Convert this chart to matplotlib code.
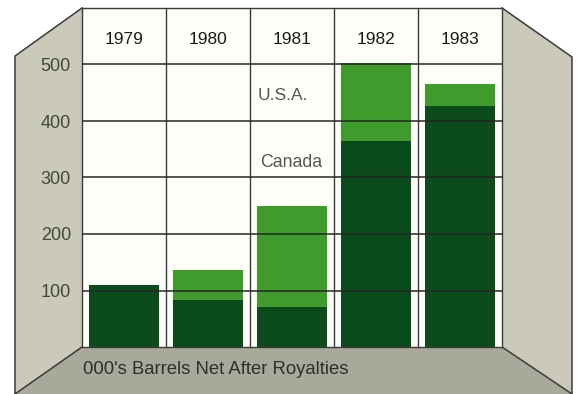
import numpy as np
import matplotlib.pyplot as plt
from matplotlib.patches import Polygon

years = ['1979', '1980', '1981', '1982', '1983']
canada = [110, 84, 70, 365, 427]
usa = [0, 53, 180, 138, 39]
y_ticks = [100, 200, 300, 400, 500]

plt.rcParams['font.family'] = ['Liberation Sans', 'DejaVu Sans']

W, H = 578, 394
fig = plt.figure(figsize=(W / 100, H / 100), dpi=100)
fig.patch.set_facecolor('white')

# background "room" drawn in pixel coordinates
bg = fig.add_axes([0, 0, 1, 1])
bg.set_xlim(0, W)
bg.set_ylim(H, 0)
bg.axis('off')

wall = '#cbc9b9'
floor = '#a9a99b'
edge = '#3a3a3a'
left_wall = [(15, 56), (82, 8), (82, 347), (15, 394)]
right_wall = [(502, 8), (572, 57), (572, 394), (502, 347)]
floor_poly = [(15, 394), (82, 347), (502, 347), (572, 394)]
bg.add_patch(Polygon(left_wall, closed=True, facecolor=wall, edgecolor='none'))
bg.add_patch(Polygon(right_wall, closed=True, facecolor=wall, edgecolor='none'))
bg.add_patch(Polygon(floor_poly, closed=True, facecolor=floor, edgecolor='none'))
for seg in [[(15, 394), (15, 56), (82, 8)], [(502, 8), (572, 57), (572, 394)],
            [(15, 394), (82, 347)], [(502, 347), (572, 394)]]:
    xs, ys = zip(*seg)
    bg.plot(xs, ys, color=edge, lw=1.1)
bg.text(83, 370, "000's Barrels Net After Royalties", fontsize=13.3,
        color='#2e2e2a', va='center', ha='left')

# back wall with the bars
ax = fig.add_axes([82 / W, 1 - 347 / H, 420 / W, 339 / H])
ax.set_facecolor('#fefef9')
x = np.arange(len(years))
ax.bar(x, canada, width=0.84, color='#0b4a1b', zorder=2)
ax.bar(x, usa, width=0.84, bottom=canada, color='#3f9b2b', zorder=2)
ax.set_xlim(-0.5, 4.5)
ax.set_ylim(0, 600)

for yv in y_ticks:
    ax.axhline(yv, color='#262626', lw=1.1, zorder=3)
for xv in x[:-1] + 0.5:
    ax.axvline(xv, color='#3a3a3a', lw=1.0, zorder=1)

for xi, yr in zip(x, years):
    ax.text(xi, 545, yr, ha='center', va='center', fontsize=12.5, color='#1a1a1a')

ax.text(1.595, 445, 'U.S.A.', ha='left', va='center', fontsize=12.5, color='#55584c')
ax.text(1.62, 327, 'Canada', ha='left', va='center', fontsize=12.8, color='#55584c')

ax.set_xticks([])
ax.set_yticks(y_ticks)
ax.set_yticklabels([str(v) for v in y_ticks], fontsize=13, color='#3f4a3c')
ax.tick_params(axis='y', length=0, pad=8)
for side in ['left', 'right', 'top', 'bottom']:
    ax.spines[side].set_color('#3a3a3a')
    ax.spines[side].set_linewidth(1.0)

fig.savefig('out.png', dpi=100)
